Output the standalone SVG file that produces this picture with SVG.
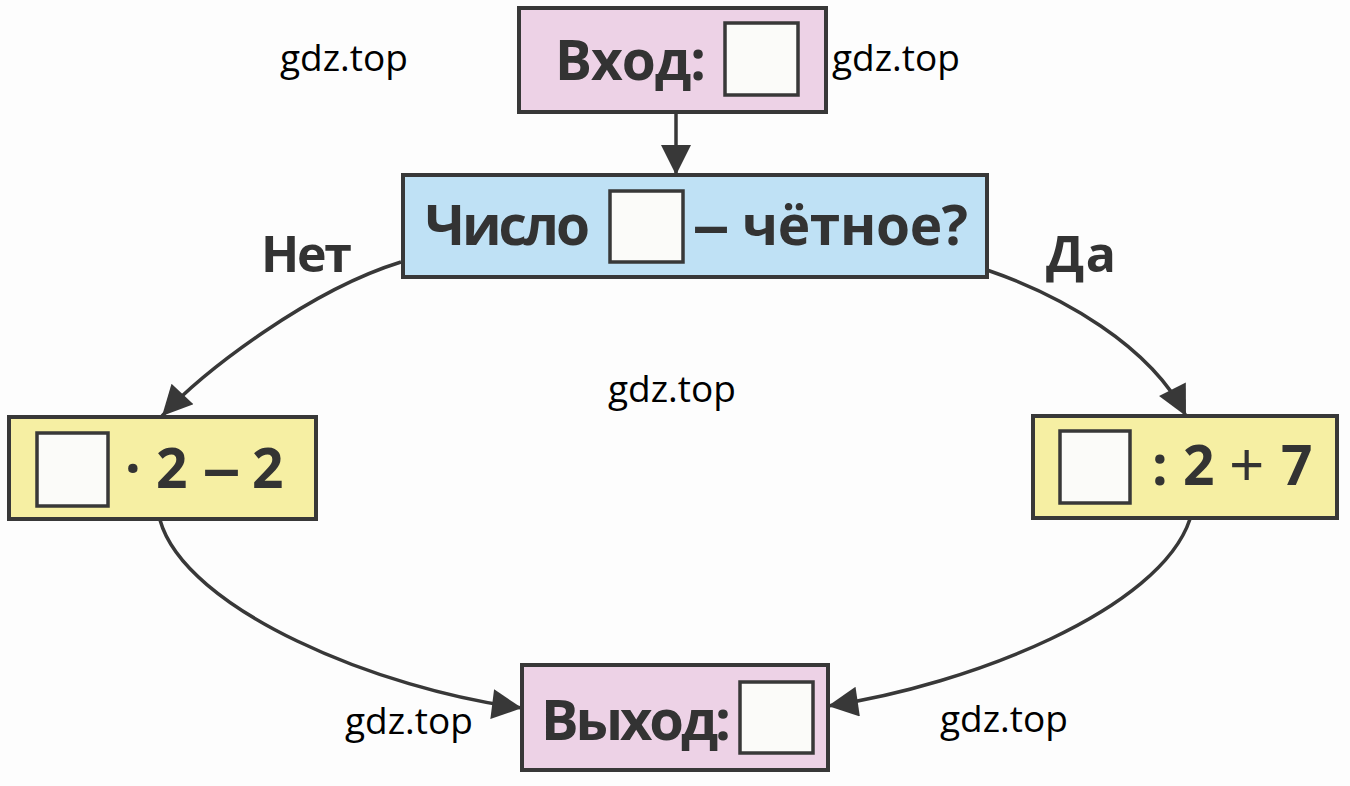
<svg xmlns="http://www.w3.org/2000/svg" width="1350" height="786" viewBox="0 0 1350 786">
<style>
.box{stroke:#383838;stroke-width:4}
.pink{fill:#edd2e6}
.blue{fill:#bfe1f5}
.yellow{fill:#f6efa3}
.sq{fill:#fbfbf9;stroke:#383838;stroke-width:3.5}
.t{font-family:"Open Sans","Noto Sans","Liberation Sans",sans-serif;font-weight:700;fill:#333}
.wm{font-family:"Open Sans","Liberation Sans",sans-serif;font-size:37px;fill:#000}
.c{fill:none;stroke:#383838;stroke-width:3.5}
</style>
<defs>
<marker id="ah" viewBox="0 0 10 10" refX="10" refY="5" markerWidth="32" markerHeight="30" markerUnits="userSpaceOnUse" orient="auto">
<path d="M0,0 L10,5 L0,10 z" fill="#383838"/>
</marker>
</defs>
<rect width="1350" height="786" fill="#fdfdfd"/>

<g id="connectors">
<path class="c" d="M676,112 L676,175" marker-end="url(#ah)"/>
<path class="c" d="M401,262 C310,290 205,370 162,416" marker-end="url(#ah)"/>
<path class="c" d="M987,270 C1060,295 1150,345 1186,416" marker-end="url(#ah)"/>
<path class="c" d="M160,520 C185,610 380,690 522,708" marker-end="url(#ah)"/>
<path class="c" d="M1190,519 C1160,610 970,685 828,706" marker-end="url(#ah)"/>
</g>

<g id="node-input">
<rect class="box pink" x="519" y="8" width="307" height="104"/>
<text class="t" x="555" y="80" font-size="55" textLength="151">Вход:</text>
<rect class="sq" x="725" y="23" width="73" height="72"/>
</g>

<g id="node-check">
<rect class="box blue" x="403" y="175" width="584" height="102"/>
<text class="t" x="425" y="245" font-size="55" textLength="165">Число</text>
<rect class="sq" x="610" y="191" width="73" height="71"/>
<text class="t" y="245" font-size="55"><tspan x="692" textLength="38" lengthAdjust="spacingAndGlyphs">–</tspan><tspan x="742" textLength="226">чётное?</tspan></text>
</g>

<g id="label-no"><text class="t" x="261" y="272" font-size="50" textLength="91">Нет</text></g>
<g id="label-yes"><text class="t" x="1046" y="272" font-size="50" textLength="70">Да</text></g>

<g id="node-left">
<rect class="box yellow" x="9" y="417" width="307" height="102"/>
<rect class="sq" x="37" y="433" width="71" height="73"/>
<text class="t" y="488" font-size="55"><tspan x="125">·</tspan><tspan x="156">2</tspan><tspan x="202" textLength="39" lengthAdjust="spacingAndGlyphs">–</tspan><tspan x="252">2</tspan></text>
</g>

<g id="node-right">
<rect class="box yellow" x="1033" y="416" width="304" height="102"/>
<rect class="sq" x="1060" y="431" width="70" height="72"/>
<text class="t" y="485" font-size="55"><tspan x="1152">:</tspan><tspan x="1183">2</tspan><tspan x="1229" font-size="62" font-weight="400" dy="2">+</tspan><tspan x="1281" dy="-2">7</tspan></text>
</g>

<g id="node-output">
<rect class="box pink" x="522" y="665" width="306" height="105"/>
<text class="t" x="541" y="740" font-size="56" textLength="190">Выход:</text>
<rect class="sq" x="740" y="682" width="73" height="71"/>
</g>

<g id="watermarks">
<text class="wm" x="280" y="71">gdz.top</text>
<text class="wm" x="832" y="71">gdz.top</text>
<text class="wm" x="608" y="402">gdz.top</text>
<text class="wm" x="345" y="734">gdz.top</text>
<text class="wm" x="940" y="732">gdz.top</text>
</g>
</svg>
